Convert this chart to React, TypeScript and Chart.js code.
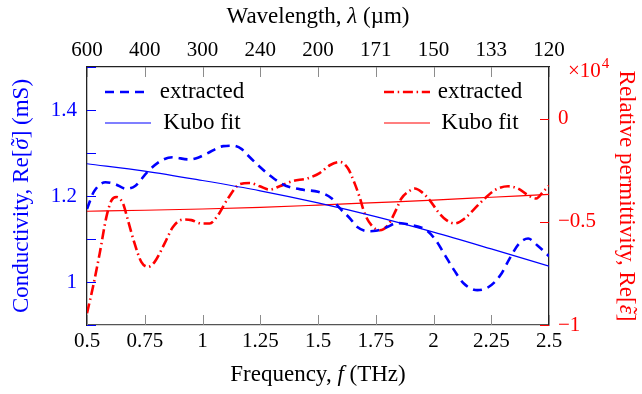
import React, { useEffect, useRef } from 'react';
import { Chart, registerables } from 'chart.js';

Chart.register(...registerables);

// ---------------- data ----------------
// bottom axis: frequency (THz); top axis: wavelength (µm) labels at the same positions
const wavelengthLabels = ['600', '400', '300', '240', '200', '171', '150', '133', '120'];

// extracted conductivity Re[σ] (mS)
const sigmaF = [0.5, 0.53, 0.58, 0.62, 0.67, 0.71, 0.76, 0.82, 0.87, 0.94, 0.98, 1.02, 1.09, 1.13, 1.17, 1.19, 1.25, 1.31, 1.36, 1.44, 1.5, 1.56, 1.59, 1.64, 1.67, 1.72, 1.75, 1.8, 1.84, 1.9, 1.97, 2.01, 2.05, 2.09, 2.13, 2.19, 2.24, 2.29, 2.33, 2.37, 2.41, 2.45, 2.5];
const sigmaExtracted = [1.17, 1.21, 1.232, 1.228, 1.217, 1.224, 1.255, 1.282, 1.29, 1.285, 1.289, 1.299, 1.316, 1.317, 1.309, 1.298, 1.267, 1.24, 1.224, 1.214, 1.21, 1.194, 1.174, 1.147, 1.128, 1.118, 1.119, 1.128, 1.137, 1.133, 1.12, 1.097, 1.062, 1.027, 0.997, 0.981, 0.989, 1.016, 1.055, 1.089, 1.101, 1.085, 1.06];

// extracted relative permittivity Re[ε] (×10^4)
const epsF = [0.5, 0.526, 0.555, 0.584, 0.606, 0.627, 0.656, 0.677, 0.706, 0.735, 0.764, 0.793, 0.836, 0.872, 0.916, 0.952, 0.995, 1.031, 1.067, 1.11, 1.161, 1.204, 1.248, 1.291, 1.334, 1.392, 1.45, 1.507, 1.551, 1.594, 1.63, 1.659, 1.68, 1.702, 1.731, 1.767, 1.803, 1.839, 1.861, 1.89, 1.919, 1.948, 1.984, 2.02, 2.056, 2.092, 2.135, 2.178, 2.222, 2.265, 2.323, 2.366, 2.409, 2.445, 2.474, 2.5];
const epsExtracted = [-0.943, -0.815, -0.653, -0.476, -0.396, -0.38, -0.412, -0.492, -0.605, -0.694, -0.718, -0.694, -0.605, -0.525, -0.489, -0.492, -0.508, -0.508, -0.468, -0.387, -0.318, -0.312, -0.328, -0.344, -0.328, -0.302, -0.291, -0.264, -0.226, -0.21, -0.242, -0.315, -0.38, -0.46, -0.516, -0.541, -0.516, -0.44, -0.387, -0.355, -0.339, -0.355, -0.396, -0.452, -0.492, -0.508, -0.484, -0.436, -0.387, -0.347, -0.328, -0.339, -0.371, -0.387, -0.355, -0.325];

// Kubo fits
const kuboF = [0.5, 0.75, 1, 1.25, 1.5, 1.75, 2, 2.25, 2.5];
const sigmaKubo = [1.275, 1.258, 1.236, 1.212, 1.184, 1.152, 1.116, 1.077, 1.037];
const epsKubo = [-0.449, -0.444, -0.438, -0.43, -0.419, -0.407, -0.395, -0.381, -0.367];

const sigmaLabelVals = [1, 1.2, 1.4];
const epsLabelVals = [-1, -0.5, 0];

// ---------------- styles ----------------
const FONT = "'Liberation Serif', 'Times New Roman', serif";
const BLUE = '#0000ff';
const RED = '#ff0000';
const TICK_FONT = 21;
const TITLE_FONT = 23;

const pts = (xs: number[], ys: number[]) => xs.map((x, i) => ({ x, y: ys[i] }));
const near = (v: number, arr: number[]) => arr.find((a) => Math.abs(a - v) < 1e-6);
const fmt = (v: number) => String(+v.toFixed(2)).replace('-', '\u2212');

type Seg = { t: string; i?: boolean; acc?: string };

function drawRich(ctx: CanvasRenderingContext2D, segs: Seg[], x: number, y: number, rot: number, size: number, color: string) {
  ctx.save();
  ctx.translate(x, y);
  ctx.rotate(rot);
  ctx.fillStyle = color;
  ctx.textBaseline = 'middle';
  ctx.textAlign = 'left';
  const fonts = segs.map((s) => `${s.i ? 'italic ' : ''}${size}px ${FONT}`);
  const widths = segs.map((s, k) => {
    ctx.font = fonts[k];
    return ctx.measureText(s.t).width;
  });
  const total = widths.reduce((a, b) => a + b, 0);
  let cx = -total / 2;
  segs.forEach((s, k) => {
    ctx.font = fonts[k];
    ctx.fillText(s.t, cx, 0);
    if (s.acc) {
      ctx.save();
      ctx.font = `${size}px ${FONT}`;
      ctx.textAlign = 'center';
      ctx.fillText(s.acc, cx + widths[k] / 2 + 1.5, -1);
      ctx.restore();
    }
    cx += widths[k];
  });
  ctx.restore();
}

function line(ctx: CanvasRenderingContext2D, x1: number, y1: number, x2: number, y2: number) {
  ctx.beginPath();
  ctx.moveTo(x1, y1);
  ctx.lineTo(x2, y2);
  ctx.stroke();
}

const decorPlugin = {
  id: 'decor',
  beforeDatasetsDraw(chart: any) {
    const { ctx, chartArea, scales } = chart;
    const { left, right, top, bottom } = chartArea;
    ctx.save();
    ctx.lineWidth = 1;
    // x ticks (inward), bottom & top
    ctx.strokeStyle = '#8c8c8c';
    scales.x.ticks.forEach((t: any) => {
      const px = Math.round(scales.x.getPixelForValue(t.value)) + 0.5;
      line(ctx, px, bottom, px, bottom - 10);
    });
    scales.x2.ticks.forEach((t: any) => {
      const px = Math.round(scales.x2.getPixelForValue(t.value)) + 0.5;
      line(ctx, px, top, px, top + 10);
    });
    // left ticks
    ctx.strokeStyle = BLUE;
    scales.y.ticks.forEach((t: any) => {
      const py = Math.round(scales.y.getPixelForValue(t.value)) + 0.5;
      line(ctx, left, py, left + 9, py);
    });
    // right ticks
    ctx.strokeStyle = RED;
    scales.y2.ticks.forEach((t: any) => {
      if (near(t.value, epsLabelVals) === undefined) return;
      const py = Math.round(scales.y2.getPixelForValue(t.value)) + 0.5;
      line(ctx, right - 9, py, right, py);
    });
    ctx.restore();
  },
  afterDraw(chart: any) {
    const { ctx, chartArea } = chart;
    const { left, right, top, bottom } = chartArea;
    const cx = (left + right) / 2;
    const cy = (top + bottom) / 2;
    // axis titles
    drawRich(ctx, [{ t: 'Wavelength, ' }, { t: 'λ', i: true }, { t: ' (µm)' }], cx, 17, 0, TITLE_FONT, '#000');
    drawRich(ctx, [{ t: 'Frequency, ' }, { t: 'f', i: true }, { t: ' (THz)' }], cx, 375, 0, TITLE_FONT, '#000');
    drawRich(ctx, [{ t: 'Conductivity, Re[' }, { t: 'σ', i: true, acc: '\u02DC' }, { t: '] (mS)' }], 22, cy, -Math.PI / 2, TITLE_FONT, BLUE);
    drawRich(ctx, [{ t: 'Relative permittivity, Re[' }, { t: 'ε', i: true, acc: '\u02DC' }, { t: ']' }], 626, cy, Math.PI / 2, TITLE_FONT, RED);

    // ×10^4 multiplier
    ctx.save();
    ctx.fillStyle = RED;
    ctx.textBaseline = 'alphabetic';
    ctx.textAlign = 'left';
    ctx.font = `21px ${FONT}`;
    const mx = right + 19;
    ctx.fillText('×10', mx, 77);
    const w = ctx.measureText('×10').width;
    ctx.font = `15px ${FONT}`;
    ctx.fillText('4', mx + w + 1, 68);
    ctx.restore();

    // legends
    const ds = chart.data.datasets;
    const rows = [
      { d: ds[0], x1: left + 18, x2: left + 60, y: 92, tx: left + 115 },
      { d: ds[1], x1: left + 18, x2: left + 64, y: 123, tx: left + 115 },
      { d: ds[2], x1: left + 297, x2: left + 343, y: 92, tx: left + 393 },
      { d: ds[3], x1: left + 297, x2: left + 343, y: 123, tx: left + 393 },
    ];
    rows.forEach((r) => {
      ctx.save();
      ctx.strokeStyle = r.d.borderColor;
      ctx.lineWidth = r.d.borderWidth;
      ctx.setLineDash(r.d.borderDash || []);
      ctx.lineCap = 'butt';
      line(ctx, r.x1, r.y, r.x2, r.y);
      ctx.restore();
      drawRich(ctx, [{ t: r.d.label }], r.tx, r.y, 0, TITLE_FONT, '#000');
    });
  },
};

export default function App() {
  const ref = useRef<HTMLCanvasElement | null>(null);

  useEffect(() => {
    if (!ref.current) return;
    const tickFont = { family: FONT, size: TICK_FONT };
    const chart = new Chart(ref.current, {
      type: 'line',
      data: {
        datasets: [
          {
            label: 'extracted',
            data: pts(sigmaF, sigmaExtracted),
            xAxisID: 'x',
            yAxisID: 'y',
            borderColor: BLUE,
            borderWidth: 2.6,
            borderDash: [9, 6],
            pointRadius: 0,
            cubicInterpolationMode: 'monotone',
            fill: false,
          },
          {
            label: 'Kubo fit',
            data: pts(kuboF, sigmaKubo),
            xAxisID: 'x',
            yAxisID: 'y',
            borderColor: BLUE,
            borderWidth: 1.2,
            pointRadius: 0,
            cubicInterpolationMode: 'monotone',
            fill: false,
          },
          {
            label: 'extracted',
            data: pts(epsF, epsExtracted),
            xAxisID: 'x',
            yAxisID: 'y2',
            borderColor: RED,
            borderWidth: 2.6,
            borderDash: [10, 3.7, 1.5, 3.7],
            pointRadius: 0,
            cubicInterpolationMode: 'monotone',
            fill: false,
          },
          {
            label: 'Kubo fit',
            data: pts(kuboF, epsKubo),
            xAxisID: 'x',
            yAxisID: 'y2',
            borderColor: RED,
            borderWidth: 1.2,
            pointRadius: 0,
            cubicInterpolationMode: 'monotone',
            fill: false,
          },
        ],
      },
      options: {
        animation: false,
        responsive: false,
        devicePixelRatio: 1,
        layout: { padding: 0 },
        plugins: { legend: { display: false }, tooltip: { enabled: false } },
        scales: {
          x: {
            type: 'linear',
            position: 'bottom',
            min: 0.5,
            max: 2.5,
            grid: { display: false, drawTicks: false },
            border: { display: true, color: '#555', width: 1.3 },
            ticks: {
              stepSize: 0.25,
              autoSkip: false,
              maxRotation: 0,
              padding: 4,
              color: '#000',
              font: tickFont,
              callback: (v: any) => fmt(Number(v)),
            },
            afterFit: (s: any) => {
              s.height = 69;
            },
          },
          x2: {
            type: 'linear',
            position: 'top',
            min: 0.5,
            max: 2.5,
            grid: { display: false, drawTicks: false },
            border: { display: true, color: '#222', width: 1.3 },
            ticks: {
              stepSize: 0.25,
              autoSkip: false,
              maxRotation: 0,
              padding: 4,
              color: '#000',
              font: tickFont,
              callback: (_v: any, i: number) => wavelengthLabels[i] ?? '',
            },
            afterFit: (s: any) => {
              s.height = 67;
            },
          },
          y: {
            type: 'linear',
            position: 'left',
            min: 0.9,
            max: 1.5,
            grid: { display: false, drawTicks: false },
            border: { display: true, color: '#222', width: 1.3 },
            ticks: {
              stepSize: 0.1,
              autoSkip: false,
              padding: 10,
              color: BLUE,
              font: tickFont,
              callback: (v: any) => {
                const m = near(Number(v), sigmaLabelVals);
                return m === undefined ? '' : fmt(m);
              },
            },
            afterFit: (s: any) => {
              s.width = 87;
            },
          },
          y2: {
            type: 'linear',
            position: 'right',
            min: -1,
            max: 0.25,
            grid: { display: false, drawTicks: false },
            border: { display: true, color: '#222', width: 1.3 },
            ticks: {
              stepSize: 0.5,
              autoSkip: false,
              padding: 9,
              color: RED,
              font: tickFont,
              callback: (v: any) => {
                const m = near(Number(v), epsLabelVals);
                return m === undefined ? '' : fmt(m);
              },
            },
            afterFit: (s: any) => {
              s.width = 93;
            },
          },
        },
      } as any,
      plugins: [decorPlugin as any],
    });
    return () => chart.destroy();
  }, []);

  return (
    <div style={{ position: 'fixed', left: 0, top: 0, width: 642, height: 394, background: '#fff' }}>
      <canvas ref={ref} width={642} height={394} style={{ display: 'block' }} />
    </div>
  );
}
